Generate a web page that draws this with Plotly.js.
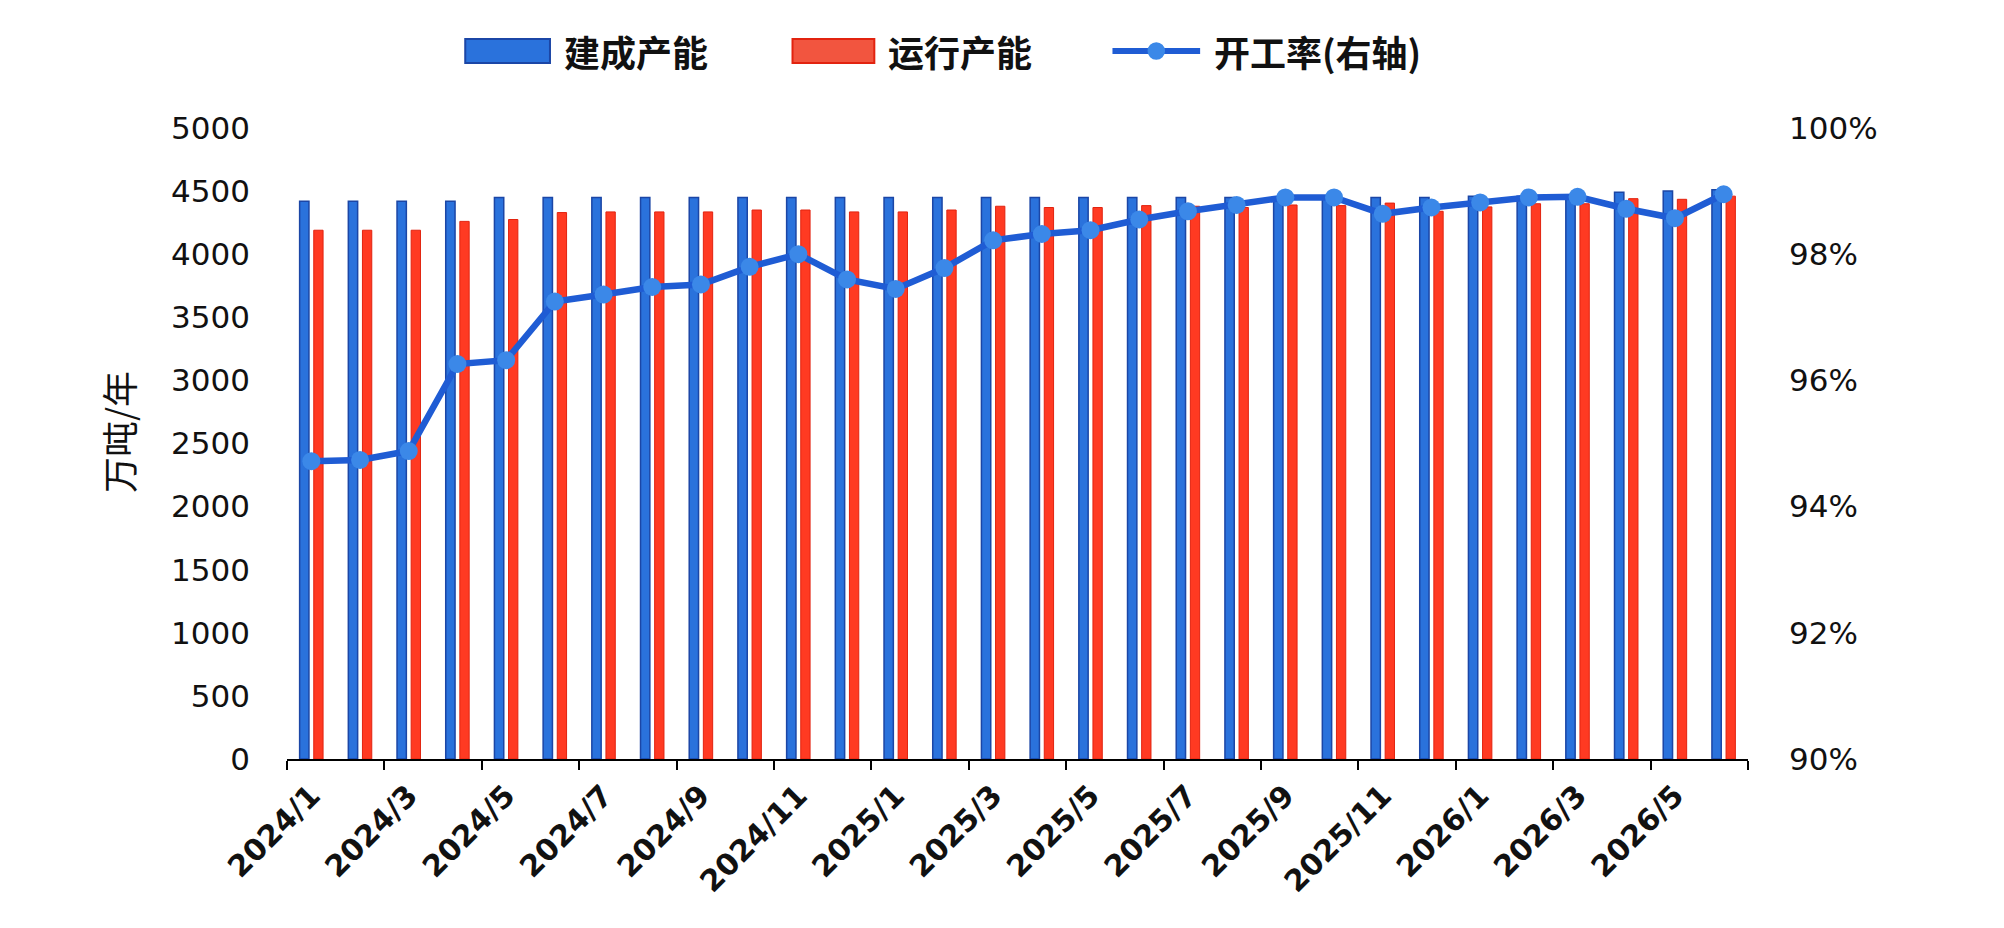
<!DOCTYPE html>
<html>
<head>
<meta charset="utf-8">
<script src="https://cdn.plot.ly/plotly-3.0.1.min.js"></script>
<style>
  html, body { margin: 0; padding: 0; background: #fff; }
  #chart { width: 2004px; height: 928px; }
</style>
</head>
<body>
<div id="chart"></div>
<script>
/* ─── Data ─── */
const MONTHS = [
  '2024/1', '2024/2', '2024/3', '2024/4', '2024/5', '2024/6', '2024/7', '2024/8', '2024/9', '2024/10',
  '2024/11', '2024/12', '2025/1', '2025/2', '2025/3', '2025/4', '2025/5', '2025/6', '2025/7', '2025/8',
  '2025/9', '2025/10', '2025/11', '2025/12', '2026/1', '2026/2', '2026/3', '2026/4', '2026/5', '2026/6',
];

// 建成产能, 万吨/年
const BUILT = [
  4420, 4420, 4420, 4420, 4450, 4450, 4450, 4450, 4450, 4450,
  4450, 4450, 4450, 4450, 4450, 4450, 4450, 4450, 4450, 4450,
  4450, 4450, 4450, 4450, 4460, 4460, 4460, 4490, 4500, 4510,
];

// 运行产能, 万吨/年
const RUNNING = [
  4190, 4190, 4190, 4260, 4275, 4330, 4335, 4335, 4335, 4350,
  4350, 4335, 4335, 4350, 4380, 4370, 4370, 4385, 4380, 4370,
  4390, 4385, 4405, 4340, 4375, 4400, 4400, 4440, 4435, 4460,
];

// 开工率, % (右轴)
const RATE = [
  94.72, 94.74, 94.88, 96.26, 96.32, 97.25, 97.36, 97.48, 97.52, 97.80,
  98.00, 97.60, 97.45, 97.78, 98.22, 98.32, 98.38, 98.55, 98.68, 98.78,
  98.90, 98.90, 98.64, 98.74, 98.82, 98.90, 98.91, 98.72, 98.57, 98.95,
];

const LEFT_TICKS = [0, 500, 1000, 1500, 2000, 2500, 3000, 3500, 4000, 4500, 5000];
const RIGHT_TICKS = [90, 92, 94, 96, 98, 100];

/* ─── Style ─── */
const COLORS = {
  BLUE: '#2a72dc',
  BLUE_EDGE: '#1b46a6',
  RED: '#ff3a22',
  RED_EDGE: '#e2230f',
  LINE: '#1f5cd4',
  MARKER: '#3b88e8',
  TEXT: '#111111',
};
const NUM_FONT = { family: '"DejaVu Sans", Verdana, sans-serif', size: 31, color: COLORS.TEXT };
const CJK_FONT = { family: '"Noto Sans CJK SC", sans-serif', size: 36, color: COLORS.TEXT, weight: 700 };

/* ─── Traces ─── */
const traces = [
  {
    type: 'bar', name: '建成产能',
    x: MONTHS, y: BUILT,
    marker: { color: COLORS.BLUE, line: { color: COLORS.BLUE_EDGE, width: 1.5 } },
  },
  {
    type: 'bar', name: '运行产能',
    x: MONTHS, y: RUNNING,
    marker: { color: COLORS.RED, line: { color: COLORS.RED_EDGE, width: 1 } },
  },
  {
    type: 'scatter', name: '开工率(右轴)', mode: 'lines+markers',
    x: MONTHS, y: RATE, yaxis: 'y2',
    line: { color: COLORS.LINE, width: 6.5 },
    marker: { color: COLORS.MARKER, size: 18, line: { width: 0 } },
  },
];

const layout = {
  width: 2004, height: 928,
  paper_bgcolor: '#fff', plot_bgcolor: '#fff',
  margin: { l: 287, r: 256, t: 128, b: 169 },
  showlegend: false,
  barmode: 'group',
  bargap: 0.42,
  bargroupgap: 0.34,
  font: NUM_FONT,
  xaxis: {
    type: 'category',
    range: [-0.5, MONTHS.length - 0.5],
    dtick: 2,
    tickson: 'boundaries',
    ticks: 'outside', ticklen: 9, tickwidth: 2, tickcolor: '#000',
    showline: true, linecolor: '#000', linewidth: 2,
    showgrid: false, zeroline: false,
    tickangle: -45,
    ticklabelstandoff: 5,
    tickfont: { ...NUM_FONT, size: 30, weight: 700 },
    automargin: false,
  },
  yaxis: {
    range: [0, 5000],
    tickmode: 'array', tickvals: LEFT_TICKS,
    showgrid: false, zeroline: false, showline: false,
    ticks: '', ticklabelstandoff: 36,
    tickfont: NUM_FONT,
    automargin: false,
  },
  yaxis2: {
    overlaying: 'y', side: 'right', anchor: 'x',
    range: [90, 100],
    tickmode: 'array', tickvals: RIGHT_TICKS,
    ticktext: RIGHT_TICKS.map(v => v + '%'),
    showgrid: false, zeroline: false, showline: false,
    ticks: '', ticklabelstandoff: 40,
    tickfont: NUM_FONT,
    automargin: false,
  },
  shapes: [
    // legend swatches (paper coords, above the plot)
    { type: 'rect', xref: 'paper', yref: 'paper', x0: 0.122, x1: 0.180, y0: 1.103, y1: 1.141,
      fillcolor: COLORS.BLUE, line: { color: COLORS.BLUE_EDGE, width: 2 } },
    { type: 'rect', xref: 'paper', yref: 'paper', x0: 0.346, x1: 0.402, y0: 1.103, y1: 1.141,
      fillcolor: '#f2553f', line: { color: COLORS.RED_EDGE, width: 2 } },
    { type: 'line', xref: 'paper', yref: 'paper', x0: 0.565, x1: 0.625, y0: 1.122, y1: 1.122,
      line: { color: COLORS.LINE, width: 6 } },
    { type: 'circle', xref: 'paper', yref: 'paper', x0: 0.5890, x1: 0.6010, y0: 1.108, y1: 1.136,
      fillcolor: COLORS.MARKER, line: { width: 0 } },
  ],
  annotations: [
    { xref: 'paper', yref: 'paper', x: 0.188, y: 1.122, xanchor: 'left', yanchor: 'middle',
      text: '建成产能', showarrow: false, font: CJK_FONT },
    { xref: 'paper', yref: 'paper', x: 0.410, y: 1.122, xanchor: 'left', yanchor: 'middle',
      text: '运行产能', showarrow: false, font: CJK_FONT },
    { xref: 'paper', yref: 'paper', x: 0.633, y: 1.122, xanchor: 'left', yanchor: 'middle',
      text: '开工率(右轴)', showarrow: false, font: CJK_FONT },
    // left axis title
    { xref: 'paper', yref: 'paper', x: -0.1157, y: 0.518, xanchor: 'center', yanchor: 'middle',
      text: '万吨/年', textangle: -90, showarrow: false,
      font: { family: '"Noto Sans CJK SC", sans-serif', size: 36, color: COLORS.TEXT } },
  ],
};

Plotly.newPlot('chart', traces, layout, { displayModeBar: false, staticPlot: true });
</script>
</body>
</html>
